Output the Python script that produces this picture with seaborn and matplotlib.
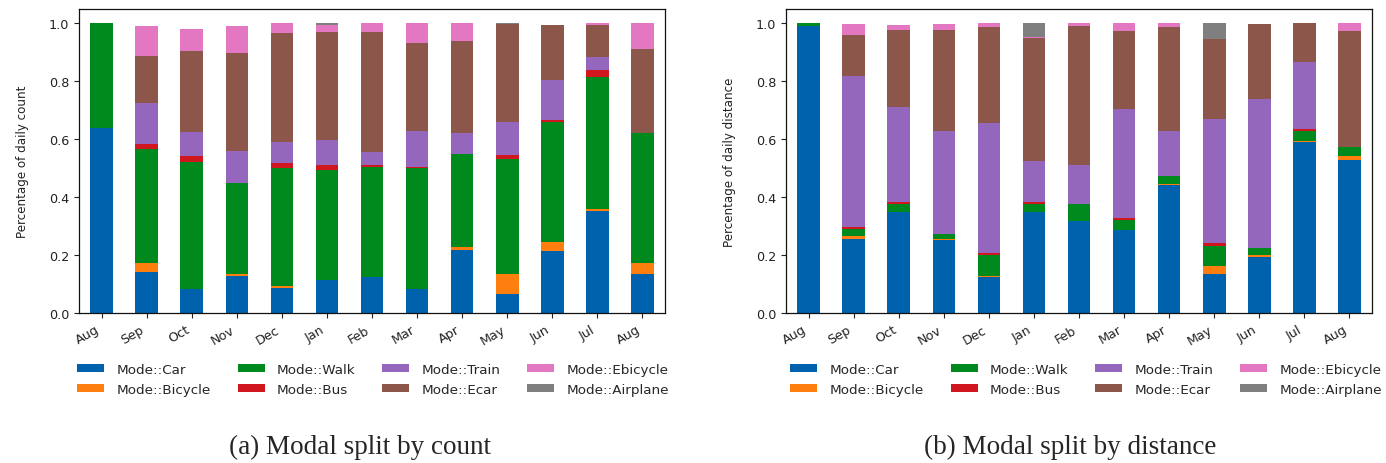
import numpy as np
import pandas as pd
import matplotlib
matplotlib.use("Agg")
import matplotlib.pyplot as plt
from matplotlib.patches import Patch
import seaborn as sns

months = ["Aug", "Sep", "Oct", "Nov", "Dec", "Jan", "Feb", "Mar", "Apr", "May", "Jun", "Jul", "Aug"]
modes = ["Mode::Car", "Mode::Bicycle", "Mode::Walk", "Mode::Bus",
         "Mode::Train", "Mode::Ecar", "Mode::Ebicycle", "Mode::Airplane"]
colors = ["#0062ac", "#ff7f0e", "#008a1e", "#d0161f", "#9467bd", "#8c564b", "#e377c2", "#7f7f7f"]

# (a) share by count per mode
count_car      = [0.638, 0.142, 0.084, 0.129, 0.085, 0.115, 0.125, 0.083, 0.219, 0.067, 0.214, 0.352, 0.135]
count_bicycle  = [0.000, 0.030, 0.000, 0.004, 0.009, 0.000, 0.000, 0.000, 0.008, 0.068, 0.032, 0.007, 0.038]
count_walk     = [0.362, 0.395, 0.436, 0.317, 0.407, 0.378, 0.381, 0.418, 0.323, 0.398, 0.413, 0.457, 0.450]
count_bus      = [0.000, 0.015, 0.023, 0.000, 0.017, 0.019, 0.006, 0.005, 0.000, 0.013, 0.009, 0.024, 0.000]
count_train    = [0.000, 0.145, 0.082, 0.109, 0.073, 0.087, 0.043, 0.123, 0.070, 0.115, 0.137, 0.043, 0.000]
count_ecar     = [0.000, 0.162, 0.281, 0.340, 0.377, 0.370, 0.414, 0.304, 0.320, 0.336, 0.190, 0.112, 0.290]
count_ebicycle = [0.000, 0.103, 0.074, 0.092, 0.032, 0.025, 0.031, 0.067, 0.060, 0.000, 0.000, 0.005, 0.087]
count_airplane = [0.000, 0.000, 0.000, 0.000, 0.000, 0.006, 0.000, 0.000, 0.000, 0.003, 0.000, 0.000, 0.000]

# (b) share by distance per mode
dist_car      = [0.991, 0.256, 0.348, 0.253, 0.123, 0.348, 0.318, 0.286, 0.443, 0.134, 0.195, 0.590, 0.529]
dist_bicycle  = [0.000, 0.009, 0.000, 0.002, 0.004, 0.000, 0.000, 0.000, 0.002, 0.029, 0.006, 0.005, 0.013]
dist_walk     = [0.009, 0.025, 0.029, 0.018, 0.073, 0.029, 0.059, 0.034, 0.028, 0.068, 0.024, 0.033, 0.032]
dist_bus      = [0.000, 0.006, 0.006, 0.000, 0.008, 0.005, 0.000, 0.008, 0.000, 0.010, 0.000, 0.008, 0.000]
dist_train    = [0.000, 0.521, 0.328, 0.356, 0.449, 0.144, 0.135, 0.375, 0.154, 0.428, 0.514, 0.230, 0.000]
dist_ecar     = [0.000, 0.143, 0.268, 0.348, 0.330, 0.425, 0.480, 0.272, 0.360, 0.277, 0.259, 0.134, 0.400]
dist_ebicycle = [0.000, 0.037, 0.016, 0.022, 0.013, 0.004, 0.008, 0.025, 0.013, 0.000, 0.000, 0.000, 0.026]
dist_airplane = [0.000, 0.000, 0.000, 0.000, 0.000, 0.045, 0.000, 0.000, 0.000, 0.054, 0.000, 0.000, 0.000]

count_series = [count_car, count_bicycle, count_walk, count_bus, count_train, count_ecar, count_ebicycle, count_airplane]
dist_series = [dist_car, dist_bicycle, dist_walk, dist_bus, dist_train, dist_ecar, dist_ebicycle, dist_airplane]

sns.set_style("ticks")
plt.rcParams["font.family"] = ["DejaVu Sans"]

fig = plt.figure(figsize=(13.86, 4.64), dpi=100)
ax1 = fig.add_axes([79 / 1386, 150 / 464, 586 / 1386, 304 / 464])
ax2 = fig.add_axes([786 / 1386, 150 / 464, 586 / 1386, 304 / 464])


def stacked(ax, series, ylabel):
    pos = np.arange(len(months))
    cum = np.cumsum(np.array(series), axis=0)
    # draw from top layer down so lower layers cover upper cumulative bars
    for i in range(len(series) - 1, -1, -1):
        df = pd.DataFrame({"pos": pos, "val": cum[i]})
        sns.barplot(data=df, x="pos", y="val", color=colors[i], saturation=1,
                    width=0.5, ax=ax, edgecolor="none", linewidth=0)
    ax.set_xlim(-0.5, len(months) - 0.5)
    ax.set_ylim(0, 1.05)
    ax.set_xticks(pos)
    ax.set_xticklabels(months, rotation=30, ha="right", rotation_mode="default")
    ax.set_yticks([0, 0.2, 0.4, 0.6, 0.8, 1.0])
    ax.set_yticklabels(["0.0", "0.2", "0.4", "0.6", "0.8", "1.0"])
    ax.tick_params(labelsize=9.2, length=3.5, width=0.8, colors="#222222")
    ax.set_xlabel("")
    ax.set_ylabel(ylabel, fontsize=8.6, color="#222222", labelpad=14.5)
    for s in ax.spines.values():
        s.set_visible(True)
        s.set_linewidth(0.9)
        s.set_color("#111111")


stacked(ax1, count_series, "Percentage of daily count")
stacked(ax2, dist_series, "Percentage of daily distance")

handles = [Patch(facecolor=c, edgecolor="none") for c in colors]
for cx in (373 / 1386, 1086 / 1386):
    fig.legend(handles, modes, loc="upper center", bbox_to_anchor=(cx, 0.2415),
               ncol=4, frameon=False, fontsize=9.7, labelspacing=0.5,
               columnspacing=2.0, handlelength=2.0, handleheight=0.55,
               handletextpad=0.9)

fig.text(360 / 1386, 0.036, "(a) Modal split by count", ha="center", va="center",
         fontsize=19.5, family=["Liberation Serif", "DejaVu Serif"])
fig.text(1070 / 1386, 0.036, "(b) Modal split by distance", ha="center", va="center",
         fontsize=19.5, family=["Liberation Serif", "DejaVu Serif"])

fig.savefig("out.png", dpi=100)
